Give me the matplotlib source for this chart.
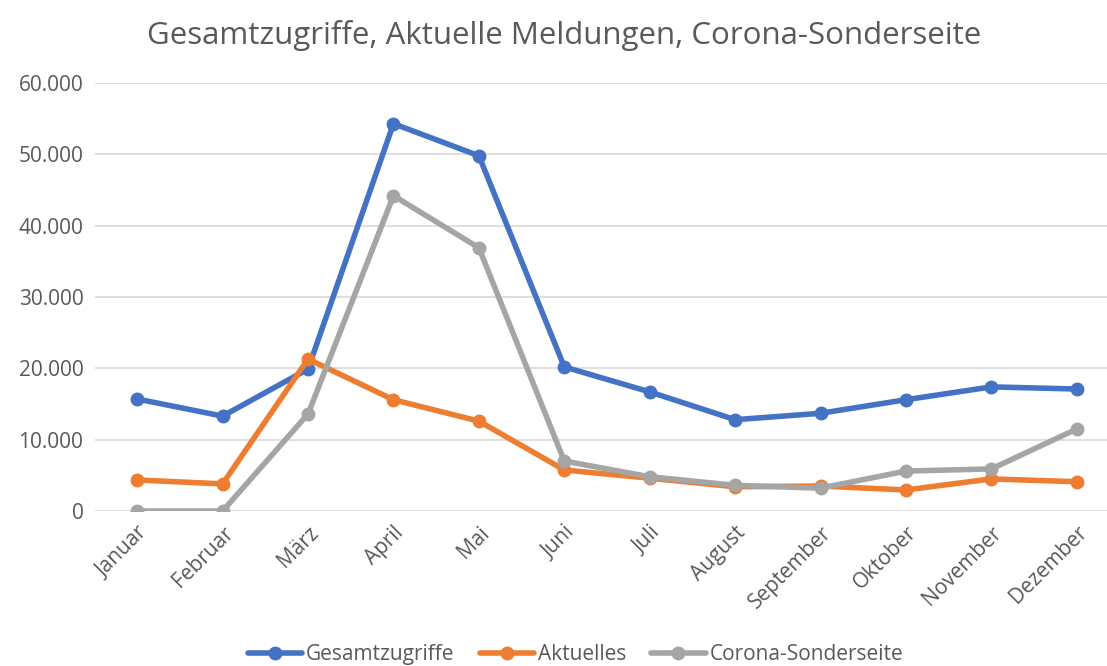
import matplotlib

matplotlib.use("Agg")
import matplotlib.pyplot as plt
from matplotlib.ticker import FuncFormatter

months = ["Januar", "Februar", "März", "April", "Mai", "Juni", "Juli",
          "August", "September", "Oktober", "November", "Dezember"]
gesamt = [15700, 13300, 19900, 54300, 49800, 20200, 16700, 12800, 13700,
          15600, 17400, 17100]
aktuelles = [4350, 3800, 21300, 15600, 12600, 5750, 4600, 3400, 3500,
             2950, 4500, 4100]
corona = [0, 0, 13600, 44200, 36900, 7000, 4800, 3600, 3200, 5600, 5900,
          11500]

plt.rcParams["font.family"] = ["Open Sans", "DejaVu Sans"]
TXT = "#595959"

fig = plt.figure(figsize=(11.07, 6.66), dpi=100)
ax = fig.add_axes([94.5 / 1107, 1 - 511 / 666, 1025 / 1107, 428 / 666])

x = range(len(months))
for vals, col, name in [(gesamt, "#4472C4", "Gesamtzugriffe"),
                        (aktuelles, "#ED7D31", "Aktuelles"),
                        (corona, "#A5A5A5", "Corona-Sonderseite")]:
    ax.plot(x, vals, color=col, lw=4, marker="o", ms=9, label=name,
            solid_capstyle="round", zorder=3)

ax.set_xlim(-0.5, 11.5)
ax.set_ylim(0, 60000)
ax.set_yticks(range(0, 60001, 10000))
ax.yaxis.set_major_formatter(FuncFormatter(lambda v, p: f"{int(v):,}".replace(",", ".")))
ax.grid(axis="y", color="#d9d9d9", lw=1.2)
ax.set_axisbelow(True)
for s in ax.spines.values():
    s.set_visible(False)
ax.tick_params(length=0, labelsize=15, colors=TXT)
ax.tick_params(axis="x", pad=8)
ax.tick_params(axis="y", pad=8)
ax.set_xticks(list(x))
ax.set_xticklabels(months, rotation=45, ha="right", rotation_mode="anchor")

fig.text(0.51, 0.947, "Gesamtzugriffe, Aktuelle Meldungen, Corona-Sonderseite",
         ha="center", va="center", fontsize=22.5, color=TXT)
fig.legend(loc="center", bbox_to_anchor=(0.52, 0.017), ncol=3, frameon=False,
           fontsize=15, labelcolor=TXT, handlelength=2.6, columnspacing=1.2,
           handletextpad=0.2)

fig.savefig("out.png", dpi=100)
